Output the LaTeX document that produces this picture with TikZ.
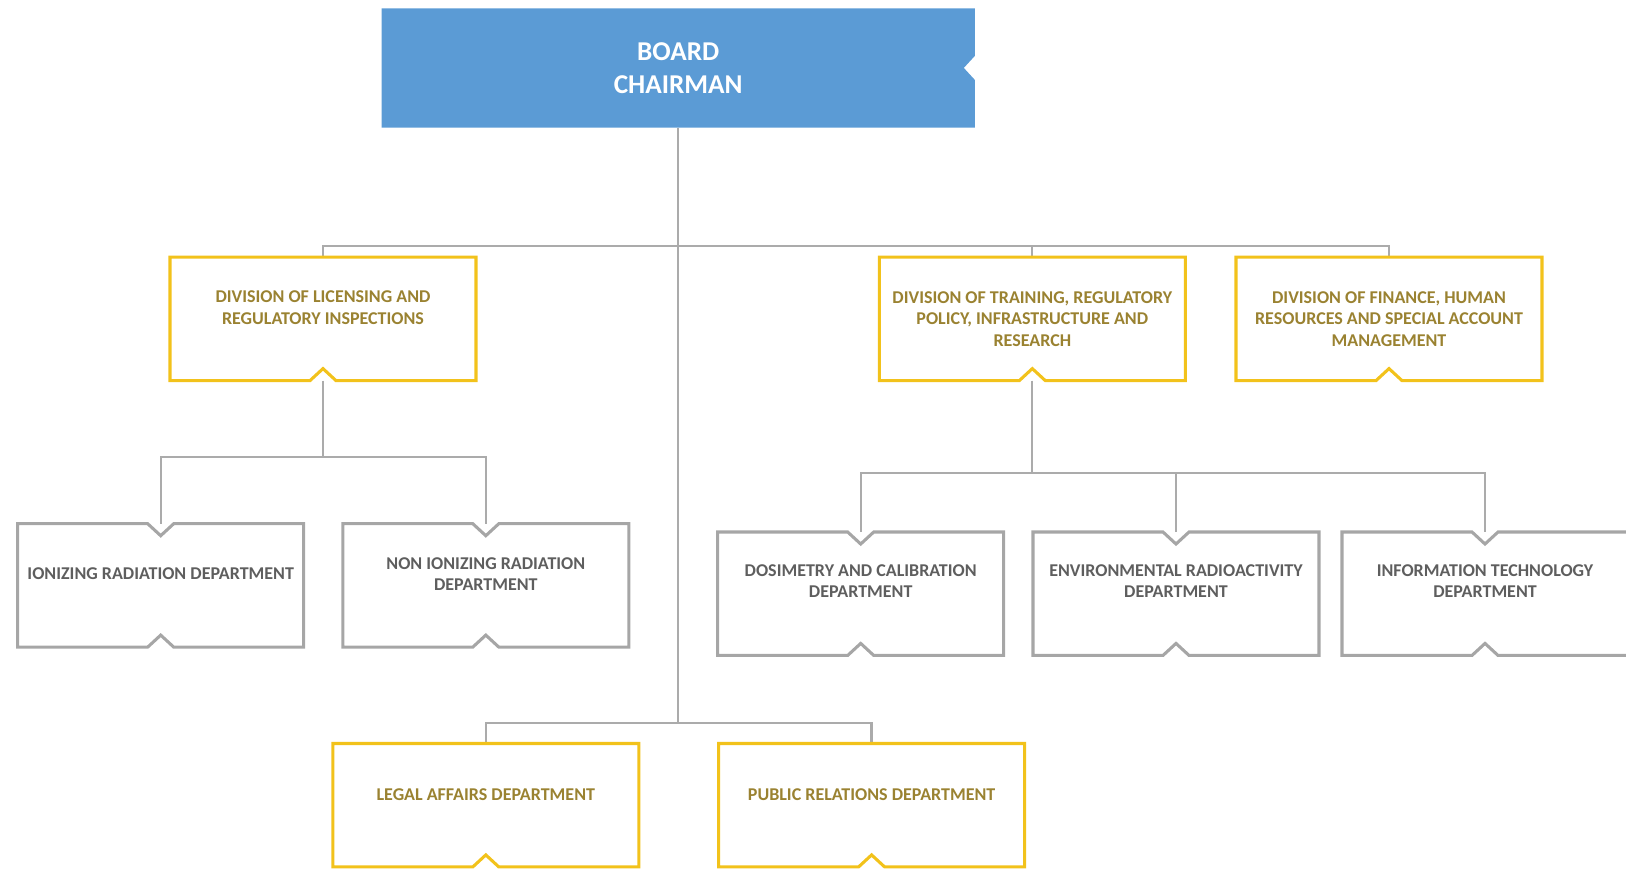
\documentclass[tikz,border=0pt]{standalone}
\usepackage{fontspec}
\setmainfont{Carlito}
\usepackage{tikz}
\usetikzlibrary{calc,positioning}

\definecolor{boardblue}{HTML}{5B9BD5}
\definecolor{divgold}{HTML}{F2C21B}
\definecolor{divbrown}{HTML}{9A8231}
\definecolor{deptgray}{HTML}{A6A6A6}
\definecolor{deptdark}{HTML}{5E5E5E}
\definecolor{linegray}{HTML}{ABABAB}

\begin{document}
\begin{tikzpicture}[x=0.75pt, y=-0.75pt]
		\tikzstyle{Board}	= [minimum width=444.9pt, minimum height=89.4pt, inner sep=0pt, outer sep=0pt]
		\tikzstyle{Division}	= [minimum width=229.5pt, minimum height=92.55pt, inner sep=0pt, outer sep=0pt]
		\tikzstyle{Dept}	= [minimum width=214.5pt, minimum height=92.55pt, inner sep=0pt, outer sep=0pt]
		\tikzstyle{BoardText}	= [align=center, text=white, font=\bfseries\fontsize{20.4}{24.9}\selectfont]
		\tikzstyle{DivText}	= [align=center, text=divbrown, font=\bfseries\fontsize{13.5}{16.3}\selectfont]
		\tikzstyle{DeptText}	= [align=center, text=deptdark, font=\bfseries\fontsize{13.5}{16.3}\selectfont]
		\tikzstyle{DivLine}	= [draw=divgold, line width=2.3pt]
		\tikzstyle{DeptLine}	= [draw=deptgray, line width=2.3pt]
		\tikzstyle{Conn}	= [draw=linegray, line width=1.7pt]

		\useasboundingbox (0,0) rectangle (1626,869);

		\node (board)  at (678.2, 67.9)  [Board] {};
		\node (div1)   at (323.0, 318.9) [Division] {};
		\node (div2)   at (1032.3, 318.9) [Division] {};
		\node (div3)   at (1389.0, 318.9) [Division] {};
		\node (ion)    at (160.7, 585.4) [Dept] {};
		\node (nonion) at (485.8, 585.4) [Dept] {};
		\node (dosi)   at (860.7, 593.7) [Dept] {};
		\node (envi)   at (1176.0, 593.7) [Dept] {};
		\node (info)   at (1485.0, 593.7) [Dept] {};
		\node (legal)  at (485.8, 805.2) [Division] {};
		\node (pubrel) at (871.6, 805.2) [Division] {};

		\coordinate (hub)    at (678.2, 245.8);
		\coordinate (jleft)  at (323.0, 457.3);
		\coordinate (jright) at (1032.3, 472.9);
		\coordinate (jbot)   at (678.2, 722.8);

		% connectors
		\draw [Conn] (board.south) -- (jbot);
		\draw [Conn] (div1.north) |- (hub) -| (div3.north);
		\draw [Conn] (div2.north) -- (div2.north |- hub);
		\draw [Conn] (div1.south) -- (jleft);
		\draw [Conn] (ion.north) |- (jleft) -| (nonion.north);
		\draw [Conn] (div2.south) -- (jright);
		\draw [Conn] (dosi.north) |- (jright) -| (info.north);
		\draw [Conn] (envi.north) -- (envi.north |- jright);
		\draw [Conn] (legal.north) |- (jbot) -| (pubrel.north);

		% box outlines
		\fill [boardblue] (board.north west) -- (board.north east) -- ($(board.east)+(0,-12)$)
			-- ++(-11,12) -- ++(11,12) -- (board.south east) -- (board.south west) -- cycle;
		\foreach \b in {div1,div2,div3,legal,pubrel}
			\draw [DivLine] (\b.north west) -- (\b.north east) -- (\b.south east)
				-- ($(\b.south)+(13,0)$) -- ++(-13,-12) -- ++(-13,12) -- (\b.south west) -- cycle;
		\foreach \b in {ion,nonion,dosi,envi,info}
			\draw [DeptLine] (\b.north west) -- ($(\b.north)+(-13,0)$) -- ++(13,12) -- ++(13,-12)
				-- (\b.north east) -- (\b.south east) -- ($(\b.south)+(13,0)$) -- ++(-13,-12)
				-- ++(-13,12) -- (\b.south west) -- cycle;

		% texts
		\node (t-board)  at (board) [BoardText] {BOARD\\CHAIRMAN};
		\node (t-div1)   at ($(div1)+(0,-11.4)$) [DivText] {DIVISION OF LICENSING AND\\REGULATORY INSPECTIONS};
		\node (t-div2)   at (div2) [DivText] {DIVISION OF TRAINING, REGULATORY\\POLICY, INFRASTRUCTURE AND\\RESEARCH};
		\node (t-div3)   at (div3) [DivText] {DIVISION OF FINANCE, HUMAN\\RESOURCES AND SPECIAL ACCOUNT\\MANAGEMENT};
		\node (t-ion)    at ($(ion)+(0,-11.9)$) [DeptText] {IONIZING RADIATION DEPARTMENT};
		\node (t-nonion) at ($(nonion)+(0,-11.4)$) [DeptText] {NON IONIZING RADIATION\\DEPARTMENT};
		\node (t-dosi)   at ($(dosi)+(0,-12.5)$) [DeptText] {DOSIMETRY AND CALIBRATION\\DEPARTMENT};
		\node (t-envi)   at ($(envi)+(0,-12.5)$) [DeptText] {ENVIRONMENTAL RADIOACTIVITY\\DEPARTMENT};
		\node (t-info)   at ($(info)+(0,-12.5)$) [DeptText] {INFORMATION TECHNOLOGY\\DEPARTMENT};
		\node (t-legal)  at ($(legal)+(0,-10.9)$) [DivText] {LEGAL AFFAIRS DEPARTMENT};
		\node (t-pubrel) at ($(pubrel)+(0,-10.9)$) [DivText] {PUBLIC RELATIONS DEPARTMENT};
	\end{tikzpicture}
\end{document}
